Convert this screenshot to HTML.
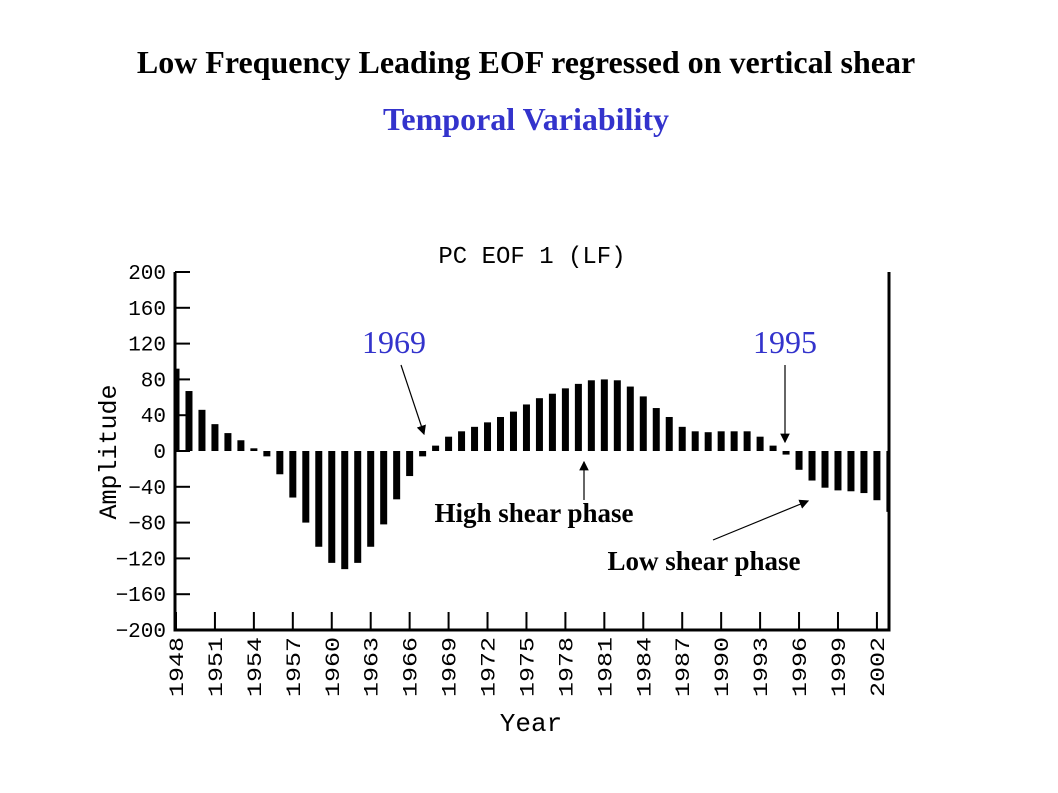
<!DOCTYPE html>
<html><head><meta charset="utf-8"><style>
body{margin:0;background:#fff;}
svg{display:block;}
</style></head><body>
<svg width="1058" height="793" xmlns="http://www.w3.org/2000/svg">
<text x="526" y="73" text-anchor="middle" font-family="Liberation Serif, serif" font-weight="bold" font-size="32" fill="#000">Low Frequency Leading EOF regressed on vertical shear</text>
<text x="526" y="130" text-anchor="middle" font-family="Liberation Serif, serif" font-weight="bold" font-size="32" fill="#3333cc">Temporal Variability</text>
<text x="532" y="263" text-anchor="middle" font-family="Liberation Mono, monospace" font-size="24" fill="#000">PC EOF 1 (LF)</text>
<text x="531" y="731" text-anchor="middle" font-family="Liberation Mono, monospace" font-size="26" fill="#000">Year</text>
<text transform="translate(116,452) rotate(-90)" text-anchor="middle" font-family="Liberation Mono, monospace" font-size="25" fill="#000">Amplitude</text>
<g id="plot"></g>
<text x="394" y="353" text-anchor="middle" font-family="Liberation Serif, serif" font-size="32" fill="#3333cc">1969</text>
<text x="785" y="353" text-anchor="middle" font-family="Liberation Serif, serif" font-size="32" fill="#3333cc">1995</text>
<text x="534" y="522" text-anchor="middle" font-family="Liberation Serif, serif" font-weight="bold" font-size="27" fill="#000">High shear phase</text>
<text x="704" y="570" text-anchor="middle" font-family="Liberation Serif, serif" font-weight="bold" font-size="27" fill="#000">Low shear phase</text>
<defs><marker id="ah" markerWidth="8" markerHeight="8" refX="7" refY="4" orient="auto"><path d="M0,0 L8,4 L0,8 Z" fill="#000"/></marker></defs>
<line x1="401" y1="365" x2="424" y2="434" stroke="#000" stroke-width="1.2" marker-end="url(#ah)"/>
<line x1="785" y1="365" x2="785" y2="442" stroke="#000" stroke-width="1.2" marker-end="url(#ah)"/>
<line x1="584" y1="500" x2="584" y2="462" stroke="#000" stroke-width="1.2" marker-end="url(#ah)"/>
<line x1="713" y1="540" x2="808" y2="501" stroke="#000" stroke-width="1.2" marker-end="url(#ah)"/>
</svg>
<script>
const years = [];
for (let y = 1948; y <= 2003; y++) years.push(y);
const amplitudes = [92,67,46,30,20,12,3,-6,-26,-52,-80,-107,-125,-132,-125,-107,-82,-54,-28,-6,
 6,16,22,27,32,38,44,52,59,64,70,75,79,80,79,72,61,48,38,27,22,21,22,22,22,16,6,-4,-21,-33,-41,-44,-45,-47,-55,-68];
const yTicks = [200,160,120,80,40,0,-40,-80,-120,-160,-200];
const xTickYears = [1948,1951,1954,1957,1960,1963,1966,1969,1972,1975,1978,1981,1984,1987,1990,1993,1996,1999,2002];

const SVGNS = 'http://www.w3.org/2000/svg';
const plotG = document.getElementById('plot');
const pLeft = 175, pRight = 889, pTop = 272, pBottom = 630;
const xs = yr => 176 + (yr - 1948) * 12.98;
const ys = v => 451 - v * (pBottom - pTop) / 400;
function mk(tag, attrs) { const e = document.createElementNS(SVGNS, tag); for (const k in attrs) e.setAttribute(k, attrs[k]); plotG.appendChild(e); return e; }

years.forEach((yr, i) => {
  const v = amplitudes[i];
  let x0 = xs(yr) - 3.5, x1 = xs(yr) + 3.5;
  x0 = Math.max(x0, pLeft); x1 = Math.min(x1, pRight);
  const y0 = Math.min(ys(v), ys(0)), h = Math.max(Math.abs(ys(v) - ys(0)), 2);
  const r = mk('rect', {x: x0, y: y0, width: x1 - x0, height: h, fill: '#000'});
  
  
});

const la = mk('line', {x1: pLeft, y1: pTop, x2: pLeft, y2: pBottom + 1.5, stroke: '#000', 'stroke-width': 3});


const ba = mk('line', {x1: pLeft - 1.5, y1: pBottom, x2: pRight + 1.5, y2: pBottom, stroke: '#000', 'stroke-width': 3});


const ra = mk('line', {x1: pRight, y1: pTop, x2: pRight, y2: pBottom, stroke: '#000', 'stroke-width': 3});



yTicks.forEach(t => {
  const tk = mk('line', {x1: pLeft, y1: ys(t), x2: pLeft + 15, y2: ys(t), stroke: '#000', 'stroke-width': 2});
  
  
  const tx = mk('text', {x: 166, y: ys(t) + 7, 'text-anchor': 'end', 'font-family': 'Liberation Mono, monospace', 'font-size': 21, fill: '#000'});
  tx.textContent = t < 0 ? '\u2212' + Math.abs(t) : String(t);
  
  
});

xTickYears.forEach(yr => {
  const x = xs(yr);
  const tk = mk('line', {x1: x, y1: pBottom, x2: x, y2: pBottom - 18, stroke: '#000', 'stroke-width': 2});
  
  
  const tx = mk('text', {transform: 'translate(' + (x + 7) + ',' + 637 + ') rotate(-90)', 'text-anchor': 'end', 'font-family': 'Liberation Mono, monospace', 'font-size': 20, textLength: 60, lengthAdjust: 'spacingAndGlyphs', fill: '#000'});
  tx.textContent = String(yr);
  
  
});
</script>
</body></html>
